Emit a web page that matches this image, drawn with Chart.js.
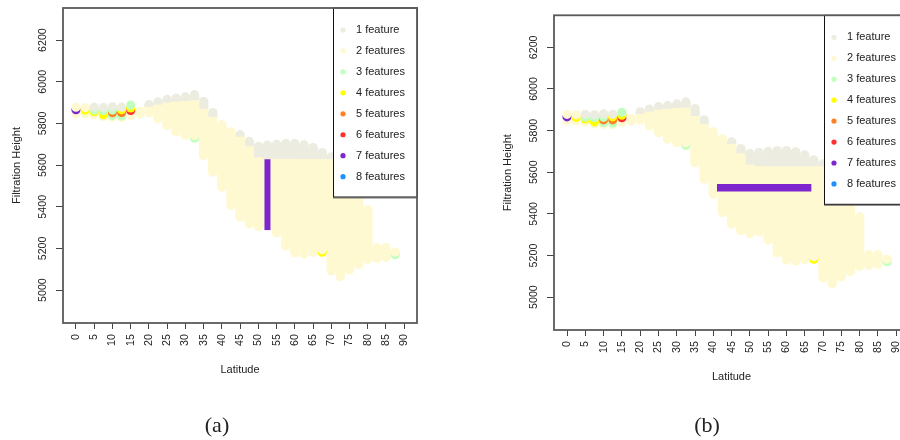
<!DOCTYPE html>
<html>
<head>
<meta charset="utf-8">
<script src="https://cdn.jsdelivr.net/npm/chart.js@4.4.1/dist/chart.umd.min.js"></script>
<style>
  html, body { margin: 0; padding: 0; background: #fff; overflow: hidden; }
  body { width: 900px; height: 440px; position: relative; }
  canvas { position: absolute; top: 0; }
  #chartA { left: 0; }
  #chartB { left: 490px; }
  .caption { position: absolute; top: 412px; line-height: 26px; transform: translateX(-50%);
             font-family: "Liberation Serif", "DejaVu Serif", serif; font-size: 22px; color: #222; }
</style>
</head>
<body>
<canvas id="chartA" width="450" height="440"></canvas>
<canvas id="chartB" width="450" height="440"></canvas>
<div class="caption" style="left:217px">(a)</div>
<div class="caption" style="left:707px">(b)</div>
<script>
// columns of the filtration, every 2.5 degrees of latitude
const lat = [0, 2.5, 5, 7.5, 10, 12.5, 15, 17.5, 20, 22.5, 25, 27.5, 30, 32.5, 35, 37.5, 40, 42.5,
             45, 47.5, 50, 52.5, 55, 57.5, 60, 62.5, 65, 67.5, 70, 72.5, 75, 77.5, 80, 82.5, 85, 87.5];
const latTicks = [0, 5, 10, 15, 20, 25, 30, 35, 40, 45, 50, 55, 60, 65, 70, 75, 80, 85, 90];
const heightTicks = [5000, 5200, 5400, 5600, 5800, 6000, 6200];

const featLabels = ["1 feature", "2 features", "3 features", "4 features",
                    "5 features", "6 features", "7 features", "8 features"];
const featColors = ["#ECECE0", "#FFF9D2", "#C1FFC1", "#FFFF00",
                    "#FF7F24", "#FF3030", "#7D26CD", "#1E90FF"];

// 2 features band (low / high) and top of the 1 feature band above it
const twoLo = [null, null, null, null, null, null, null, 5846, 5850, 5822, 5790, 5759, 5742, 5728, 5646, 5566, 5494, 5406,
               5350, 5319, 5304, 5312, 5274, 5212, 5178, 5172, 5180, 5182, 5092, 5064, 5097, 5122, 5147, 5152, 5157, 5172];
const twoHi = [null, null, null, null, null, null, null, 5858, 5880, 5890, 5900, 5905, 5908, 5910, 5870, 5830, 5794, 5760,
               5736, 5690, 5636, 5628, 5628, 5628, 5628, 5628, 5628, 5628, 5628, 5628, 5628, 5628, 5386, 5204, 5204, 5180];
const oneHi = [null, null, null, null, null, null, null, null, 5890, 5903, 5915, 5921, 5928, 5938, 5906, 5852, null, null,
               5746, 5714, 5690, 5696, 5700, 5704, 5704, 5698, 5684, 5660, 5640, 5630, 5630, 5630, null, null, null, null];

// single points, low to high inside each column
const dotLat = [0, 0, 0, 2.5, 2.5, 2.5, 5, 5, 5, 5, 7.5, 7.5, 7.5, 7.5,
                10, 10, 10, 10, 10, 12.5, 12.5, 12.5, 12.5, 12.5, 15, 15, 15, 15,
                32.5, 32.5, 67.5, 67.5, 87.5, 87.5];
const dotHeight = [5846, 5866, 5878, 5846, 5864, 5876, 5842, 5856, 5864, 5878, 5832, 5842, 5862, 5876,
                   5830, 5838, 5852, 5864, 5880, 5828, 5836, 5852, 5866, 5878, 5838, 5862, 5874, 5888,
                   5730, 5742, 5182, 5194, 5170, 5182];
const dotFeat = [2, 7, 2, 2, 4, 2, 2, 4, 3, 1, 2, 4, 3, 1,
                 2, 3, 5, 3, 1, 2, 3, 5, 4, 1, 2, 6, 4, 3,
                 3, 2, 4, 2, 3, 2];

// the 7 features segment of each panel
const sevenLatA = [52.5, 52.5];
const sevenHeightA = [5288, 5628];
const sevenLatB = [41, 66.8];
const sevenHeightB = [5525, 5525];

const sans = "'Liberation Sans', Arial, sans-serif";
const ink = "#222";

function bars(lo, hi) {
    return lat.map((x, i) => (lo[i] == null || hi[i] == null) ? null : { x: x, y: [lo[i], hi[i]] }).filter(d => d);
}
function ends(v) {
    return lat.map((x, i) => v[i] == null ? null : { x: x, y: v[i] }).filter(d => d);
}

const frame = {
    id: "frame",
    afterDraw(chart) {
        const { ctx, chartArea: a } = chart;
        const lx = a.left + 270, ly = a.top, lh = 189;
        ctx.save();
        ctx.fillStyle = "#fff";
        ctx.fillRect(lx, ly, a.right - lx, lh);
        ctx.strokeStyle = "#777";
        ctx.lineWidth = 1;
        ctx.beginPath(); ctx.moveTo(lx, ly + lh + 1); ctx.lineTo(a.right, ly + lh + 1); ctx.stroke();
        ctx.strokeStyle = "#111";
        ctx.strokeRect(lx + 0.5, ly, a.right - lx, lh);
        ctx.font = "11px " + sans;
        ctx.textBaseline = "middle";
        featLabels.forEach((t, i) => {
            const y = ly + 22 + i * 20.95;
            ctx.fillStyle = featColors[i];
            ctx.beginPath(); ctx.arc(lx + 10, y, 2.6, 0, Math.PI * 2); ctx.fill();
            ctx.fillStyle = ink;
            ctx.fillText(t, lx + 23, y);
        });
        ctx.strokeStyle = "#5a5a5a";
        ctx.lineWidth = 1.8;
        ctx.strokeRect(a.left, a.top, a.right - a.left, a.bottom - a.top);
        ctx.restore();
    }
};

function makeChart(id, sevenLat, sevenHeight, sevenWidth, pad, yWidth, yTitlePad) {
    const r = 4.6;
    new Chart(document.getElementById(id), {
        type: "bar",
        data: {
            datasets: [
                { type: "scatter", data: ends(twoHi), pointRadius: r, pointBorderWidth: 0,
                  pointBackgroundColor: featColors[1], order: 20 },
                { type: "bar", data: bars(twoHi, oneHi), backgroundColor: featColors[0], grouped: false,
                  barPercentage: 1.04, categoryPercentage: 1, order: 19 },
                { type: "scatter", data: ends(oneHi), pointRadius: r, pointBorderWidth: 0,
                  pointBackgroundColor: featColors[0], order: 18 },
                { type: "bar", data: bars(twoLo, twoHi), backgroundColor: featColors[1], grouped: false,
                  barPercentage: 1.04, categoryPercentage: 1, order: 17 },
                { type: "scatter", data: ends(twoLo), pointRadius: r, pointBorderWidth: 0,
                  pointBackgroundColor: featColors[1], order: 16 },
                { type: "scatter", data: dotLat.map((x, i) => ({ x: x, y: dotHeight[i] })), pointRadius: r,
                  pointBorderWidth: 0, pointBackgroundColor: dotFeat.map(f => featColors[f - 1]), order: 5 },
                { type: "line", data: sevenLat.map((x, i) => ({ x: x, y: sevenHeight[i] })),
                  borderColor: featColors[6], borderWidth: sevenWidth, borderCapStyle: "butt",
                  pointRadius: 0, fill: false, order: 1 }
            ]
        },
        options: {
            responsive: false,
            animation: false,
            events: [],
            devicePixelRatio: 1,
            layout: { padding: pad },
            plugins: { legend: { display: false }, tooltip: { enabled: false } },
            scales: {
                x: {
                    type: "linear", min: -3.56, max: 93.5, offset: false,
                    afterBuildTicks: s => { s.ticks = latTicks.map(v => ({ value: v })); },
                    afterFit: s => { s.height = 60; },
                    grid: { offset: false, drawOnChartArea: false, tickLength: 6, tickColor: "#444", tickWidth: 1 },
                    border: { display: false },
                    ticks: { autoSkip: false, minRotation: 90, maxRotation: 90, padding: 5, color: ink,
                             font: { family: sans, size: 10.7 }, callback: v => String(v) },
                    title: { display: true, text: "Latitude", color: ink, font: { family: sans, size: 11 },
                             padding: { top: 0, bottom: 6.4 } }
                },
                y: {
                    type: "linear", min: 4842, max: 6354, beginAtZero: false,
                    afterBuildTicks: s => { s.ticks = heightTicks.map(v => ({ value: v })); },
                    afterFit: s => { s.width = yWidth; },
                    grid: { drawOnChartArea: false, tickLength: 7, tickColor: "#444", tickWidth: 1 },
                    border: { display: false },
                    ticks: { autoSkip: false, minRotation: 90, maxRotation: 90, crossAlign: "center", padding: 1.4,
                             color: ink, font: { family: sans, size: 10.7 }, callback: v => String(v) },
                    title: { display: true, text: "Filtration Height", color: ink, font: { family: sans, size: 11 },
                             padding: { top: yTitlePad, bottom: 0 } }
                }
            }
        },
        plugins: [frame]
    });
}

makeChart("chartA", sevenLatA, sevenHeightA, 6, { top: 8, right: 33, bottom: 57, left: 0 }, 63, 10.6);
makeChart("chartB", sevenLatB, sevenHeightB, 7.5, { top: 15.3, right: 31, bottom: 50, left: 0 }, 64, 11.7);
</script>
</body>
</html>
